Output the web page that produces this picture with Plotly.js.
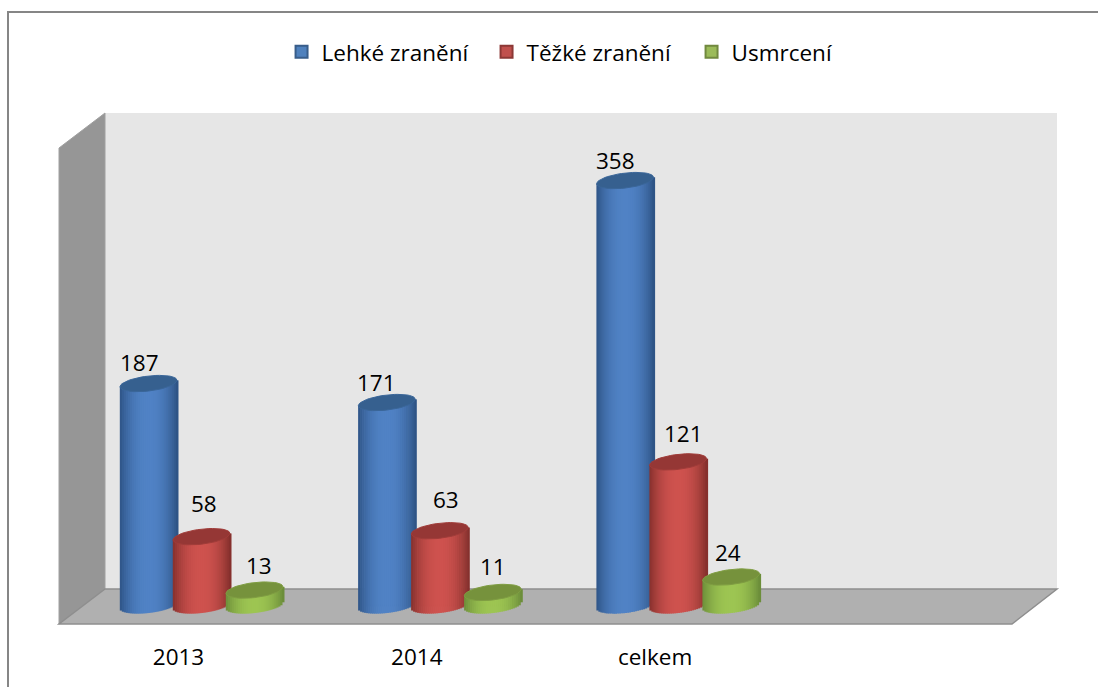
<!DOCTYPE html>
<html><head><meta charset="utf-8">
<script src="https://cdn.plot.ly/plotly-3.0.1.min.js"></script>
<style>html,body{margin:0;padding:0;background:#fff}</style>
</head><body><div id="chart" style="width:1098px;height:687px"></div>
<script>
// ---- data ----
const categories = ['2013', '2014', 'celkem'];
const lehke = [187, 171, 358];
const tezke = [58, 63, 121];
const usmrceni = [13, 11, 24];
const seriesNames = ['Lehké zranění', 'Těžké zranění', 'Usmrcení'];

// ---- styles ----
const W = 1098, H = 687;
const plot = {l: 59, r: 1057, t: 113, b: 624};
const xZero = 201.5, xStep = 238.3;     // pixel centre of first group, group spacing
const yZero = 605.5, yScale = 1.187;    // pixel of value 0, pixels per unit
const seriesGapPx = 53, radiusPx = 28.5, capMinorPx = 7.5, tiltPx = 3.2, stripPx = 2;
const FONT = 'Open Sans';
const styles = [
  {edge: [46, 84, 134], mid: [80, 130, 197], cap: '#36608f', capLine: '#3a6699', legend: '#4f81bd', legendLine: '#385d8a'},
  {edge: [134, 48, 45], mid: [206, 82, 78], cap: '#953735', capLine: '#a03c39', legend: '#c0504d', legendLine: '#8c3836'},
  {edge: [108, 142, 58], mid: [157, 197, 82], cap: '#76923c', capLine: '#7f9d42', legend: '#9bbb59', legendLine: '#71893f'}
];
const labelXShift = [[-9, 2, 4], [-10, 6, 0], [-10, 5, -3]];
const labelYShift = [[21, 33, 25], [20, 31, 26], [20, 28, 25]];
const tickShift = -23 / xStep;

const series = [lehke, tezke, usmrceni];
const ux = p => p / xStep, uy = p => p / yScale;
const rgb = c => 'rgb(' + c.map(Math.round).join(',') + ')';
const mix = (a, b, t) => a.map((v, i) => v + (b[i] - v) * t);
const idx = categories.map((_, i) => i);
const traces = [];

series.forEach((vals, s) => {
  const st = styles[s];
  const centre = (s - 1) * seriesGapPx;
  // plain body under the shaded strips: also supplies the legend swatch
  traces.push({type: 'bar', name: seriesNames[s], x: idx, y: vals, width: ux(radiusPx * 1.4),
    offset: ux(centre - radiusPx * 0.7), marker: {color: st.legend, line: {color: st.legendLine, width: 2}},
    hoverinfo: 'x+y', showlegend: true});
  // shaded cylinder body, one bar trace per vertical strip
  for (let dx = -radiusPx; dx < radiusPx; dx += stripPx) {
    const m = dx + stripPx / 2, u = Math.min(1, Math.abs(m) / radiusPx);
    const color = rgb(mix(st.edge, st.mid, 1 - Math.pow(u, 2.2)));
    const botPx = capMinorPx * Math.sqrt(Math.max(0, 1 - u * u)) - tiltPx * m / radiusPx;
    const topPx = -tiltPx * m / radiusPx;
    const base = vals.map(() => -uy(botPx));
    traces.push({type: 'bar', x: idx, base: base,
      y: vals.map((v, i) => v - uy(topPx) - base[i]),
      width: ux(stripPx + 0.7), offset: ux(centre + dx - 0.2),
      marker: {color: color, line: {width: 0}}, hoverinfo: 'skip', showlegend: false});
  }
});
series.forEach((vals, s) => {
  const st = styles[s];
  const centre = (s - 1) * seriesGapPx;
  // elliptical caps, placed at each value
  const xs = [], ys = [];
  vals.forEach((v, i) => {
    for (let a = 0; a <= 48; a++) {
      const t = a / 48 * 2 * Math.PI, c = Math.cos(t), n = Math.sin(t);
      xs.push(i + ux(centre + radiusPx * c));
      ys.push(v + uy(capMinorPx * n + tiltPx * c));
    }
    xs.push(null); ys.push(null);
  });
  traces.push({type: 'scatter', mode: 'lines', x: xs, y: ys, fill: 'toself', fillcolor: st.cap,
    line: {color: st.capLine, width: 1}, hoverinfo: 'skip', showlegend: false});
});

const px = p => (p - plot.l) / (plot.r - plot.l);
const py = p => (plot.b - p) / (plot.b - plot.t);
const poly = (pts, fill, lineColor, lw) => ({type: 'path', xref: 'paper', yref: 'paper', layer: 'below',
  path: 'M' + pts.map(q => px(q[0]) + ',' + py(q[1])).join('L') + 'Z',
  fillcolor: fill, line: {color: lineColor, width: lw}});

const shapes = [
  poly([[8, 12], [1110, 12], [1110, 700], [8, 700]], '#ffffff', '#868686', 2),
  poly([[105, 113], [1057, 113], [1057, 589], [105, 589]], '#e6e6e6', '#e6e6e6', 0),
  poly([[59, 148], [105, 113], [105, 589], [59, 624]], '#969696', '#a0a0a0', 1),
  poly([[105, 589], [1057, 589], [1012, 624], [59, 624]], '#b0b0b0', '#8e8e8e', 1.5)
];

const annotations = [];
series.forEach((vals, s) => vals.forEach((v, i) => annotations.push({
  x: i + ux((s - 1) * seriesGapPx), y: v, text: String(v), showarrow: false,
  xanchor: 'center', yanchor: 'middle', xshift: labelXShift[i][s], yshift: labelYShift[i][s],
  font: {family: FONT, size: 22.5, color: '#000'}
})));

const layout = {
  width: W, height: H, autosize: false,
  margin: {l: plot.l, r: W - plot.r, t: plot.t, b: H - plot.b, pad: 0, autoexpand: false},
  paper_bgcolor: '#fff', plot_bgcolor: 'rgba(0,0,0,0)',
  font: {family: FONT, size: 22, color: '#000'},
  barmode: 'overlay',
  xaxis: {range: [(plot.l - xZero) / xStep, (plot.r - xZero) / xStep], tickmode: 'array',
    tickvals: idx.map(i => i + tickShift), ticktext: categories, showgrid: false, zeroline: false,
    showline: false, ticks: 'outside', ticklen: 13, tickcolor: 'rgba(0,0,0,0)',
    tickfont: {family: FONT, size: 22.5, color: '#000'}},
  yaxis: {range: [(yZero - plot.b) / yScale, (yZero - plot.t) / yScale], visible: false},
  legend: {orientation: 'h', x: 0.223, xanchor: 'left', y: 1.119, yanchor: 'middle',
    entrywidth: 160, entrywidthmode: 'pixels',
    font: {family: FONT, size: 22.5, color: '#000'}, bgcolor: 'rgba(0,0,0,0)'},
  shapes: shapes, annotations: annotations, showlegend: true
};
Plotly.newPlot('chart', traces, layout, {displayModeBar: false, staticPlot: true});
</script></body></html>
